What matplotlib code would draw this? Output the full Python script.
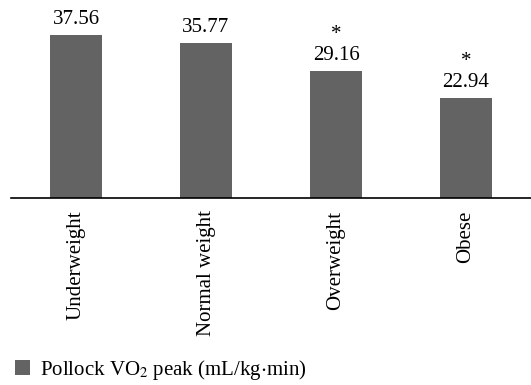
import matplotlib
matplotlib.use("Agg")
import matplotlib.pyplot as plt
from matplotlib.patches import Patch

plt.rcParams['font.family'] = ['Liberation Serif', 'DejaVu Serif']
plt.rcParams['mathtext.fontset'] = 'stix'

groups = ['Underweight', 'Normal weight', 'Overweight', 'Obese']
vo2_peak = [37.56, 35.77, 29.16, 22.94]
significant = [False, False, True, True]

bar_color = '#636363'

fig = plt.figure(figsize=(5.31, 3.85), dpi=100)
ax = fig.add_axes([11 / 531, 1 - 198 / 385, 1 - 11 / 531, (198 - 24.4) / 385])

x = list(range(len(groups)))
bars = ax.bar(x, vo2_peak, width=0.4, color=bar_color)

# value labels, with a star over the groups that differ significantly
for xi, v, sig in zip(x, vo2_peak, significant):
    label = f"*\n{v:.2f}" if sig else f"{v:.2f}"
    ax.annotate(label, (xi, v), xytext=(0, 4.5), textcoords='offset points',
                ha='center', va='bottom', fontsize=15, linespacing=1.15,
                annotation_clip=False)

ax.set_xlim(-0.5, 3.5)
ax.set_ylim(0, 40)
ax.set_xticks(x)
ax.set_xticklabels(groups, rotation=90, fontsize=15)
ax.tick_params(axis='x', length=0, pad=9)
ax.set_yticks([])
for side in ['top', 'right', 'left']:
    ax.spines[side].set_visible(False)
ax.spines['bottom'].set_linewidth(1.2)

handle = Patch(facecolor=bar_color, edgecolor='none')
fig.legend([handle], ['Pollock VO$_2$ peak (mL/kg$\\cdot$min)'],
           loc='center left', bbox_to_anchor=(0.0, 1 - 370 / 385),
           frameon=False, fontsize=15, handlelength=0.75, handleheight=0.75,
           handletextpad=0.45, borderaxespad=0.3)

fig.savefig('out.png', dpi=100)
